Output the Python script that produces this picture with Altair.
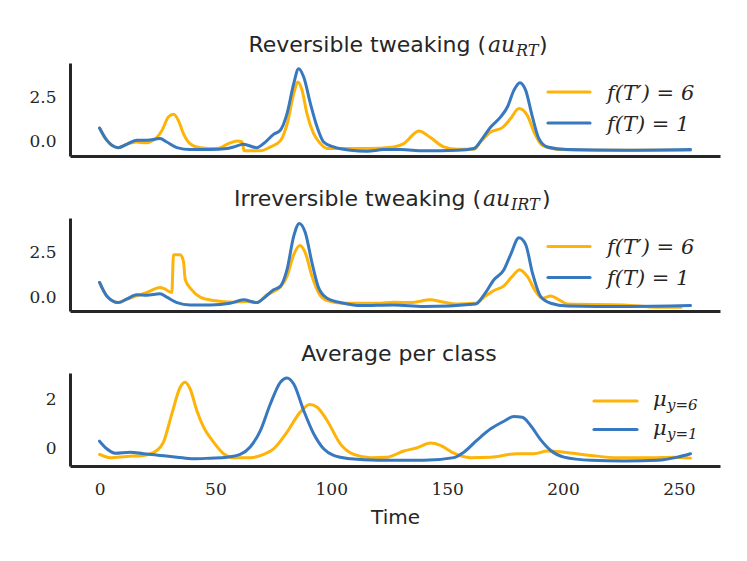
import altair as alt
import pandas as pd

ORANGE = "#feb308"
BLUE = "#3778bf"
INK = "#262626"

# ---------------- data ----------------
P1_ORANGE_T = [0, 3.1, 8.1, 11.7, 16, 20, 24.7, 27, 29.7, 32, 34, 36.2, 39, 43.4, 50.6, 55.7, 59.3, 61.5, 62.4,
               69.4, 73.7, 78, 81, 83.8, 85.5, 87.4, 89.5, 92.4, 95.3, 98.2, 105.4, 115.5, 127, 131.3, 137.8,
               142.8, 148.6, 154.4, 161.5, 164.4, 168.8, 173.8, 177.4, 181, 184.6, 187.5, 191.1, 197.6, 212,
               226.4, 240.8, 255]
P1_ORANGE_V = [0.79, 0.10, -0.32, -0.13, 0.0, -0.05, 0.25, 0.66, 1.41, 1.56, 1.22, 0.47, -0.09, -0.32, -0.37,
               -0.09, 0.06, 0.0, -0.5, -0.5, -0.28, 0.06, 1.04, 2.72, 3.38, 2.91, 1.6, 0.47, -0.09, -0.37, -0.37,
               -0.37, -0.28, -0.09, 0.62, 0.25, -0.28, -0.41, -0.41, 0.0, 0.56, 0.81, 1.32, 1.88, 1.5, 0.56,
               -0.19, -0.41, -0.47, -0.47, -0.47, -0.47]

P1_BLUE_T = [0, 3.1, 8.1, 11.7, 16, 20.4, 26.1, 29, 33.4, 39.1, 47.8, 55, 57.8, 62.1, 67.9, 70.8, 75.1, 78,
             80.9, 83.8, 85.9, 88.1, 91, 93.9, 96.7, 101, 108.3, 115.5, 122.6, 129.9, 139.9, 154.4, 161.5,
             165.2, 168.8, 173.1, 176, 178.8, 181.4, 183.9, 186.8, 189.6, 193.3, 201.9, 226.4, 255]
P1_BLUE_V = [0.79, 0.10, -0.32, -0.13, 0.1, 0.1, 0.19, 0.0, -0.32, -0.43, -0.43, -0.37, -0.28, -0.13, -0.32,
             -0.09, 0.43, 0.66, 1.6, 3.29, 4.13, 3.66, 2.16, 0.84, 0.0, -0.28, -0.47, -0.52, -0.43, -0.43, -0.5,
             -0.47, -0.37, 0.19, 0.84, 1.41, 1.97, 2.91, 3.34, 2.91, 1.41, 0.19, -0.28, -0.43, -0.47, -0.43]

P2_ORANGE_T = [0, 3.1, 8.1, 11.7, 16, 20.4, 26.1, 28.3, 31.2, 31.9, 34.8, 36.2, 37, 39.8, 43.4, 49.2, 57.8,
               63.5, 67.9, 72.2, 78, 80.9, 83.8, 86.4, 88.8, 91.7, 94.6, 98.2, 105.4, 119.8, 127, 134.2, 142.8,
               147.1, 154.4, 162.3, 165.9, 170.2, 174.5, 178.1, 181.3, 184.6, 188.2, 191.1, 194.7, 198.3, 201.9,
               226.4, 240.8, 250.9]
P2_ORANGE_V = [0.82, 0.07, -0.3, -0.11, 0.07, 0.26, 0.54, 0.45, 0.26, 2.37, 2.37, 2.0, 0.97, 0.41, 0.0, -0.19,
               -0.28, -0.24, -0.3, 0.13, 0.56, 1.16, 2.37, 2.88, 2.47, 1.16, 0.22, -0.19, -0.34, -0.34, -0.28,
               -0.3, -0.15, -0.24, -0.38, -0.34, 0.0, 0.37, 0.63, 1.16, 1.53, 1.16, 0.32, -0.06, 0.07, -0.15,
               -0.38, -0.43, -0.56, -0.56]

P2_BLUE_T = [0, 3.1, 8.1, 11.7, 16, 20.4, 26.1, 29, 33.4, 39.1, 47.8, 56.4, 62.1, 67.9, 70.8, 75.1, 78, 80.9,
             83.8, 86.2, 88.8, 91.7, 94.6, 98.2, 105.4, 112.6, 127, 139.9, 162.3, 165.9, 170.2, 174.5, 177.4,
             181, 183.9, 186.8, 190.4, 194.7, 201.9, 226.4, 255]
P2_BLUE_V = [0.82, 0.07, -0.3, -0.11, 0.13, 0.11, 0.19, 0.0, -0.3, -0.43, -0.43, -0.34, -0.15, -0.3, -0.06,
             0.41, 0.6, 1.53, 3.4, 4.11, 3.59, 1.9, 0.5, -0.06, -0.34, -0.47, -0.43, -0.52, -0.38, 0.13, 0.97,
             1.53, 2.37, 3.31, 2.93, 1.35, 0.03, -0.34, -0.49, -0.52, -0.47]

P3_ORANGE_T = [0, 4.5, 11.7, 18.9, 24.7, 27.6, 31.2, 34.8, 36.9, 39.1, 42, 44.9, 49.2, 53.5, 57.8, 65, 70.8,
               75.1, 80.9, 86.6, 90.7, 93.9, 98.2, 103.9, 109.7, 116.9, 124.1, 131.3, 137.1, 142.8, 147.1,
               152.9, 160.1, 168.8, 180.3, 187.5, 193.3, 200.4, 212, 223.5, 237.9, 248, 255]
P3_ORANGE_V = [-0.23, -0.36, -0.31, -0.27, -0.07, 0.27, 1.42, 2.5, 2.7, 2.43, 1.55, 0.88, 0.27, -0.2, -0.36,
               -0.36, -0.23, 0.0, 0.68, 1.49, 1.8, 1.69, 1.15, 0.2, -0.23, -0.36, -0.34, -0.09, 0.04, 0.23,
               0.14, -0.18, -0.36, -0.34, -0.2, -0.2, -0.09, -0.14, -0.27, -0.36, -0.36, -0.34, -0.38]

P3_BLUE_T = [0, 3.1, 6.7, 13.2, 18.9, 26.1, 33.4, 40.5, 47.8, 55, 60.7, 65, 69.4, 73.7, 78, 80.9, 83.8, 88.1,
             92.4, 96.7, 101, 108.3, 119.8, 129.9, 139.9, 152.9, 157.2, 163, 168.8, 174.5, 178.8, 182.4, 186,
             190.4, 194.7, 200.4, 212, 226.4, 240.8, 249.4, 255]
P3_BLUE_V = [0.31, 0.0, -0.18, -0.14, -0.2, -0.27, -0.34, -0.41, -0.38, -0.34, -0.23, 0.07, 0.74, 1.82, 2.7,
             2.88, 2.63, 1.55, 0.61, 0.0, -0.27, -0.41, -0.47, -0.47, -0.47, -0.36, -0.14, 0.36, 0.81, 1.12,
             1.31, 1.28, 0.95, 0.36, -0.07, -0.34, -0.47, -0.5, -0.47, -0.34, -0.2]

X_TICKS = [0, 50, 100, 150, 200, 250]
Y_TICKS_TWEAK = [0, 2.5]
Y_TICKS_AVG = [0, 2]

LEGEND_TWEAK = ["f(T′) = 6", "f(T) = 1"]
LEGEND_AVG_MAIN = "μ"
LEGEND_AVG_SUB = ["y=6", "y=1"]

# ---------------- layout helpers ----------------
W, H = 650, 93
XDOM = [-12.75, 267.75]
ONE = alt.Data(values=[{"k": 1}])
SERIF = "DejaVu Serif"


def txt(s, x, y, size, font="DejaVu Sans", style="normal", align="left"):
    return alt.Chart(ONE).mark_text(
        text=s, font=font, fontSize=size, fontStyle=style, align=align,
        baseline="alphabetic", color=INK
    ).encode(x=alt.value(x), y=alt.value(y))


def swatch(x1, x2, y, color):
    return alt.Chart(ONE).mark_rule(color=color, strokeWidth=3.2, strokeCap="round").encode(
        x=alt.value(x1), x2=alt.value(x2), y=alt.value(y))


def panel(o_t, o_v, b_t, b_v, ydom, yticks, yfmt, xaxis, decorations):
    xs = alt.Scale(domain=XDOM, nice=False, zero=False)
    ys = alt.Scale(domain=ydom, nice=False, zero=False)
    yaxis = alt.Axis(values=yticks, format=yfmt, title=None, grid=False, ticks=False, tickSize=0,
                     labelPadding=14, labelFont=SERIF, labelFontSize=17, labelColor=INK,
                     domainColor=INK, domainWidth=3, minExtent=57, maxExtent=57)

    def ln(t, v, c):
        return alt.Chart(pd.DataFrame({"t": t, "v": v})).mark_line(
            color=c, strokeWidth=3, interpolate="monotone", strokeCap="round", strokeJoin="round"
        ).encode(
            x=alt.X("t:Q", scale=xs, axis=xaxis),
            y=alt.Y("v:Q", scale=ys, axis=yaxis),
        )

    return alt.layer(ln(o_t, o_v, ORANGE), ln(b_t, b_v, BLUE), *decorations).properties(width=W, height=H)


hidden_x = alt.Axis(labels=False, ticks=False, tickSize=0, title=None, grid=False,
                    domainColor=INK, domainWidth=3, minExtent=0)
bottom_x = alt.Axis(values=X_TICKS, format="d", title="Time", grid=False, ticks=False, tickSize=0,
                    labelPadding=15, labelFont=SERIF, labelFontSize=17, labelColor=INK,
                    titleFont="DejaVu Sans", titleFontSize=20, titleFontWeight="normal", titleColor=INK,
                    titlePadding=10, domainColor=INK, domainWidth=3)

deco1 = [
    txt("Reversible tweaking (", 416, -11, 22, align="right"),
    txt("au", 418, -11, 22, font=SERIF, style="italic"),
    txt("RT", 446, -7, 16, font=SERIF, style="italic"),
    txt(")", 469, -11, 22),
    swatch(478, 520, 29, ORANGE),
    swatch(478, 520, 60, BLUE),
    txt(LEGEND_TWEAK[0], 537, 36.5, 21, font=SERIF, style="italic"),
    txt(LEGEND_TWEAK[1], 537, 67.5, 21, font=SERIF, style="italic"),
]

deco2 = [
    txt("Irreversible tweaking (", 411, -12, 22, align="right"),
    txt("au", 413, -12, 22, font=SERIF, style="italic"),
    txt("IRT", 441, -8, 16, font=SERIF, style="italic"),
    txt(")", 472, -12, 22),
    swatch(478, 520, 28.5, ORANGE),
    swatch(478, 520, 59.5, BLUE),
    txt(LEGEND_TWEAK[0], 537, 36, 21, font=SERIF, style="italic"),
    txt(LEGEND_TWEAK[1], 537, 67, 21, font=SERIF, style="italic"),
]

deco3 = [
    txt("Average per class", 329, -12, 22, align="center"),
    swatch(524, 567, 28, ORANGE),
    swatch(524, 567, 56.5, BLUE),
    txt(LEGEND_AVG_MAIN, 583, 33, 21, font=SERIF, style="italic"),
    txt(LEGEND_AVG_SUB[0], 597, 37, 15, font=SERIF, style="italic"),
    txt(LEGEND_AVG_MAIN, 583, 61.5, 21, font=SERIF, style="italic"),
    txt(LEGEND_AVG_SUB[1], 597, 65.5, 15, font=SERIF, style="italic"),
]

p1 = panel(P1_ORANGE_T, P1_ORANGE_V, P1_BLUE_T, P1_BLUE_V, [-0.79, 4.45], Y_TICKS_TWEAK, ".1f", hidden_x, deco1)
p2 = panel(P2_ORANGE_T, P2_ORANGE_V, P2_BLUE_T, P2_BLUE_V, [-0.77, 4.41], Y_TICKS_TWEAK, ".1f", hidden_x, deco2)
p3 = panel(P3_ORANGE_T, P3_ORANGE_V, P3_BLUE_T, P3_BLUE_V, [-0.70, 3.08], Y_TICKS_AVG, "d", bottom_x, deco3)

chart = alt.vconcat(p1, p2, p3, spacing=32).resolve_scale(y="independent").properties(
    padding={"left": 5, "top": 26, "right": 5, "bottom": 5},
    background="white",
).configure_view(stroke=None)

chart.save("out.html", embed_options={"renderer": "svg", "actions": False})
